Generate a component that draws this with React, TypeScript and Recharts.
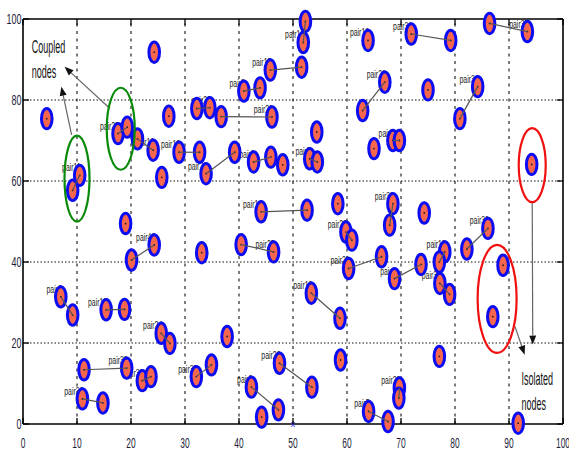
import React from "react";
import { ScatterChart, Scatter, XAxis, YAxis, ReferenceLine, ReferenceDot } from "recharts";

const W = 569;
const H = 452;
const PLOT_LEFT = 23;
const PLOT_RIGHT = 563;
const PLOT_TOP = 19;
const PLOT_BOTTOM = 424;

const FONT = "'Liberation Sans Narrow', 'Liberation Sans', Arial, sans-serif";

const xTicks = [0, 10, 20, 30, 40, 50, 60, 70, 80, 90, 100];
const yTicks = [0, 20, 40, 60, 80, 100];
const xGrid = [10, 20, 30, 40, 50, 60, 70, 80, 90];
const yGrid = [20, 40, 60, 80];

// labelled node of each pair first, its partner second
const pairNames = [
  "pair27", "pair16", "pair18", "pair26", "pair3", "pair7", "pair8", "pair22", "pair28", "pair9",
  "pair15", "pair19", "pair10", "pair23", "pair31", "pair37", "pair34", "pair11", "pair40", "pair25",
  "pair14", "pair29", "pair21", "pair39", "pair4", "pair17", "pair33", "pair30", "pair20", "pair5",
  "pair12", "pair22", "pair2", "pair35", "pair32", "pair38", "pair36", "pair24", "pair13", "pair6",
];
const pairFirst: [number, number][] = [
  [17.6, 71.7], [24.1, 67.6], [28.9, 67.1], [33.9, 61.8], [42.7, 64.7], [53.1, 65.5], [68.5, 70.0], [34.6, 78.1], [46.1, 75.8], [40.9, 82.2],
  [45.8, 87.4], [51.9, 94.2], [63.9, 94.7], [67.0, 84.4], [71.9, 96.3], [93.4, 96.9], [84.2, 83.3], [10.5, 61.4], [24.3, 44.2], [46.4, 42.5],
  [44.1, 52.4], [59.8, 47.4], [60.3, 38.4], [68.5, 54.4], [68.8, 35.9], [78.1, 42.5], [77.2, 34.7], [86.1, 48.3], [69.7, 8.9], [64.0, 3.1],
  [53.4, 32.3], [47.5, 15.0], [42.3, 9.1], [32.1, 11.7], [22.1, 10.7], [19.2, 13.8], [11.0, 6.2], [25.6, 22.4], [15.4, 28.2], [7.0, 31.4],
];
const pairSecond: ([number, number] | null)[] = [
  [19.3, 73.3], [21.2, 70.4], [32.7, 67.1], [39.2, 67.1], [45.9, 65.9], [54.5, 64.7], [69.7, 70.0], [32.2, 77.9], [36.7, 75.9], [43.9, 83.0],
  [51.6, 88.1], [52.3, 99.4], null, [62.9, 77.4], [79.2, 94.7], [86.4, 98.9], [80.9, 75.4], [9.2, 57.7], [20.1, 40.5], [40.4, 44.3],
  [52.6, 52.8], [60.9, 45.4], [66.4, 41.3], [67.9, 49.1], [73.7, 39.4], [77.1, 40.0], [79.0, 32.0], [82.2, 43.2], [69.6, 6.4], [67.6, 0.6],
  [58.7, 26.1], [53.5, 9.1], [47.3, 3.5], [34.9, 14.6], [23.7, 11.7], [11.3, 13.4], [14.8, 5.2], [27.2, 19.9], [18.8, 28.3], [9.2, 26.9],
];
const singleNodes: [number, number][] = [
  [24.3, 91.8], [4.4, 75.4], [27.0, 76.0], [25.7, 60.9], [48.1, 64.0], [54.4, 72.1], [65.0, 68.0], [75.0, 82.5], [19.0, 49.5], [33.1, 42.3],
  [58.3, 54.4], [74.3, 52.1], [88.9, 39.2], [87.0, 26.5], [94.2, 64.1], [77.1, 16.7], [91.7, 0.2], [58.8, 15.8], [44.2, 1.7], [37.8, 21.6],
];

const ringNotes = [
  { x: 10.0, y: 60.6, rx: 12.5, ry: 43, color: "#0a8a0a" },
  { x: 18.1, y: 72.9, rx: 14, ry: 41, color: "#0a8a0a" },
  { x: 94.3, y: 63.9, rx: 13.5, ry: 37, color: "#f01010" },
  { x: 87.8, y: 30.9, rx: 19.5, ry: 54, color: "#f01010" },
];
const arrowNotes = [
  { from: [9.0, 71.4], to: [7.1, 83.3] },
  { from: [16.1, 77.9], to: [7.7, 88.2] },
  { from: [94.3, 54.8], to: [94.4, 19.6] },
  { from: [91.1, 24.1], to: [92.9, 17.1] },
];
const textNotes = [
  { text: "Coupled", x: 1.6, y: 91.6 },
  { text: "nodes", x: 1.6, y: 85.4 },
  { text: "Isolated", x: 92.3, y: 9.7 },
  { text: "nodes", x: 92.3, y: 3.5 },
];

const labelData = pairNames.map((name, i) => ({ x: pairFirst[i][0], y: pairFirst[i][1], name }));
const nodeData = [
  ...pairFirst.map(([x, y]) => ({ x, y })),
  ...pairSecond.filter((p): p is [number, number] => p !== null).map(([x, y]) => ({ x, y })),
  ...singleNodes.map(([x, y]) => ({ x, y })),
];
const links = pairFirst
  .map((p, i) => (pairSecond[i] ? [{ x: p[0], y: p[1] }, { x: pairSecond[i]![0], y: pairSecond[i]![1] }] : null))
  .filter((l) => l !== null) as { x: number; y: number }[][];

// squeezed text, like the condensed font of the original figure
function NarrowText({ x, y, size, squeeze, anchor = "start", fill = "#111", children }: any) {
  return (
    <text transform={`translate(${x},${y}) scale(${squeeze},1)`} fontSize={size} fontFamily={FONT}
      textAnchor={anchor} fill={fill}>
      {children}
    </text>
  );
}

const XTick = (props: any) => {
  const { x, payload } = props;
  return (
    <g>
      <line x1={x} x2={x} y1={PLOT_BOTTOM} y2={PLOT_BOTTOM - 6} stroke="#000" strokeWidth={1.3} />
      <line x1={x} x2={x} y1={PLOT_TOP} y2={PLOT_TOP + 6} stroke="#000" strokeWidth={1.3} />
      <NarrowText x={x} y={PLOT_BOTTOM + 24} size={15} squeeze={0.56} anchor="middle" fill="#1c1c3a">{payload.value}</NarrowText>
    </g>
  );
};

const YTick = (props: any) => {
  const { y, payload } = props;
  return (
    <g>
      <line x1={PLOT_LEFT} x2={PLOT_LEFT + 6} y1={y} y2={y} stroke="#000" strokeWidth={1.3} />
      <line x1={PLOT_RIGHT - 6} x2={PLOT_RIGHT} y1={y} y2={y} stroke="#000" strokeWidth={1.3} />
      <NarrowText x={21.5} y={y + 5} size={14} squeeze={0.64} anchor="end" fill="#1c1c3a">{payload.value}</NarrowText>
    </g>
  );
};

const nodeShape = (p: any) => (
  <g>
    <ellipse cx={p.cx} cy={p.cy} rx={5.3} ry={10.2} fill="#f8664e" stroke="#0c0cf2" strokeWidth={3} />
    <circle cx={p.cx} cy={p.cy} r={0.9} fill="#222" />
  </g>
);

const labelShape = (p: any) => (
  <NarrowText x={p.cx + 1} y={p.cy - 4} size={11.5} squeeze={0.6} anchor="end" fill="#1a1a1a">
    {p.payload.name}
  </NarrowText>
);

const emptyShape = () => <g />;

const arrowShape = (p: any) => {
  const { x1, y1, x2, y2 } = p;
  const a = Math.atan2(y2 - y1, x2 - x1);
  const bx = x2 - 9 * Math.cos(a);
  const by = y2 - 9 * Math.sin(a);
  const nx = -Math.sin(a) * 3.5;
  const ny = Math.cos(a) * 3.5;
  return (
    <g>
      <line x1={x1} y1={y1} x2={bx} y2={by} stroke="#666" strokeWidth={1.2} />
      <polygon points={`${x2},${y2} ${bx + nx},${by + ny} ${bx - nx},${by - ny}`} fill="#111" />
    </g>
  );
};

export default function App() {
  return (
    <div style={{ position: "absolute", left: 0, top: 0, background: "#fff" }}>
      <ScatterChart width={W} height={H} margin={{ top: PLOT_TOP, right: W - PLOT_RIGHT, bottom: 0, left: 0 }}>
        <XAxis type="number" dataKey="x" domain={[0, 100]} ticks={xTicks} interval={0} height={H - PLOT_BOTTOM}
          axisLine={{ stroke: "#000", strokeWidth: 1.6 }} tickLine={false} tick={<XTick />} />
        <YAxis type="number" dataKey="y" domain={[0, 100]} ticks={yTicks} interval={0} width={PLOT_LEFT}
          axisLine={{ stroke: "#000", strokeWidth: 1.6 }} tickLine={false} tick={<YTick />} />
        {xGrid.map((v) => (
          <ReferenceLine key={`gx${v}`} x={v} stroke="#111" strokeWidth={1.1} strokeDasharray="3 4.5" />
        ))}
        {yGrid.map((v) => (
          <ReferenceLine key={`gy${v}`} y={v} stroke="#111" strokeWidth={1.1} strokeDasharray="1.5 2" />
        ))}
        <ReferenceLine y={100} stroke="#000" strokeWidth={1.6} />
        <ReferenceLine x={100} stroke="#000" strokeWidth={1.6} />
        <Scatter data={labelData} shape={labelShape} isAnimationActive={false} legendType="none" />
        <Scatter data={nodeData} shape={nodeShape} isAnimationActive={false} legendType="none" />
        {links.map((l, i) => (
          <Scatter key={`ln${i}`} data={l} shape={emptyShape} line={{ stroke: "#555", strokeWidth: 1.2 }}
            isAnimationActive={false} legendType="none" />
        ))}
        {ringNotes.map((r, i) => (
          <ReferenceDot key={`rg${i}`} x={r.x} y={r.y} r={0} ifOverflow="visible"
            shape={(p: any) => <ellipse cx={p.cx} cy={p.cy} rx={r.rx} ry={r.ry} fill="none" stroke={r.color} strokeWidth={2.2} />} />
        ))}
        {arrowNotes.map((a, i) => (
          <ReferenceLine key={`ar${i}`} ifOverflow="visible"
            segment={[{ x: a.from[0], y: a.from[1] }, { x: a.to[0], y: a.to[1] }]} shape={arrowShape} />
        ))}
        {textNotes.map((t, i) => (
          <ReferenceDot key={`tx${i}`} x={t.x} y={t.y} r={0} ifOverflow="visible"
            shape={(p: any) => <NarrowText x={p.cx} y={p.cy} size={18} squeeze={0.5} fill="#111">{t.text}</NarrowText>} />
        ))}
        <ReferenceDot x={50} y={0} r={0} ifOverflow="visible"
          shape={(p: any) => <text x={p.cx} y={p.cy + 3} fontSize={9} fontFamily={FONT} textAnchor="middle" fill="#3030ff">x</text>} />
      </ScatterChart>
    </div>
  );
}
